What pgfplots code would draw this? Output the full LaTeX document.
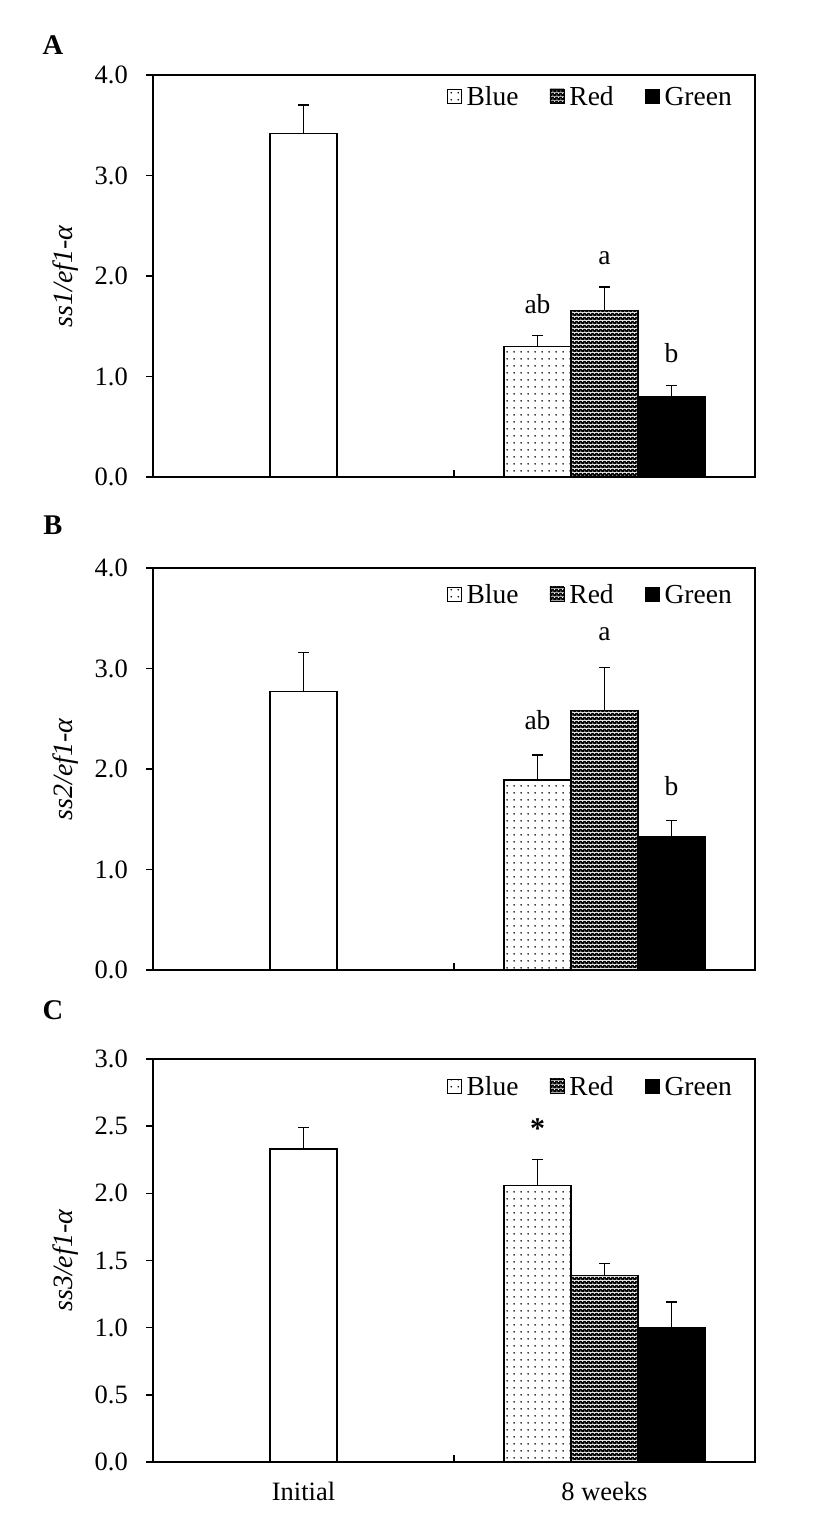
\documentclass[border=0pt]{standalone}
\usepackage{fontspec}
\setmainfont{Liberation Serif}
\usepackage{pgfplots}
\pgfplotsset{compat=1.18}
\usetikzlibrary{patterns}

\pgfdeclarepatternformonly{bluedots}{\pgfqpoint{0pt}{0pt}}{\pgfqpoint{7pt}{7pt}}{\pgfqpoint{7pt}{7pt}}{%
  \pgfpathcircle{\pgfqpoint{3.5pt}{3.5pt}}{1pt}\pgfusepath{fill}}
\pgfdeclarepatterninherentlycolored{redlattice}{\pgfqpoint{0pt}{0pt}}{\pgfqpoint{4pt}{4pt}}{\pgfqpoint{4pt}{4pt}}{%
  \pgfsetfillcolor{black}\pgfpathrectangle{\pgfqpoint{0pt}{0pt}}{\pgfqpoint{4pt}{4pt}}\pgfusepath{fill}%
  \pgfsetfillcolor{white}\pgfpathcircle{\pgfqpoint{1pt}{1pt}}{0.7pt}\pgfpathcircle{\pgfqpoint{3pt}{3pt}}{0.7pt}\pgfusepath{fill}}

\newcommand{\tickfont}{\fontsize{26.5}{30}\selectfont}
\newcommand{\legfont}{\fontsize{27.5}{30}\selectfont}

\pgfplotsset{
  panel/.style={
    scale only axis, width=602pt, xmin=0, xmax=2,
    axis line style={line width=1.8pt},
    /pgf/number format/assume math mode=true,
    tick label style={font=\tickfont},
    yticklabel style={anchor=east, inner sep=0pt, xshift=-18pt, /pgf/number format/.cd, fixed, fixed zerofill, precision=1},
    tick align=outside, major tick length=7pt,
    tick style={line width=1.5pt, black},
    xtick style={yshift=7pt},
    xtick pos=bottom, ytick pos=left,
    xtick={1}, xticklabels={},
    extra x tick style={major tick length=0pt, tick style={draw=none}},
    xticklabel style={anchor=north, inner sep=0pt, yshift=-20pt},
    every axis y label/.style={at={(axis description cs:-0.1445,0.5)}, rotate=90, anchor=center, font=\fontsize{28}{30}\selectfont},
    legend columns=3,
    legend image code/.code={\draw[#1, line width=0.9pt] (0pt,-6pt) rectangle (14pt,8pt);},
    legend style={draw=none, fill=none, at={(1,1)}, anchor=north east, xshift=-23pt,
      font=\legfont, inner sep=0pt, nodes={inner sep=0pt},
      /tikz/every odd column/.append style={column sep=5pt},
      /tikz/every even column/.append style={column sep=31pt}},
  },
  barstyle/.style={ybar, bar width=67pt, bar shift=0pt, draw=black, line width=1.3pt,
    error bars/y dir=plus, error bars/y explicit, error bars/error mark=|,
    error bars/error bar style={line width=1.3pt, black},
    error bars/error mark options={line width=1.3pt, mark size=5.5pt, black}},
  initbar/.style={barstyle, fill=white, forget plot},
  bluebar/.style={barstyle, pattern=bluedots, pattern color=black},
  redbar/.style={barstyle, pattern=redlattice},
  greenbar/.style={barstyle, fill=black},
}

\begin{document}
\begin{tikzpicture}
\path[use as bounding box] (0,0) rectangle (827pt,1524pt);

% Panel A
\node[font=\bfseries\fontsize{28.5}{30}\selectfont] at (53pt,1479pt) {A};
\begin{axis}[panel, at={(153pt,1047pt)}, anchor=south west, height=402pt,
  ymin=0, ymax=4, ytick={0,1,2,3,4},
  ylabel={\textit{ss1/ef1-α}}, legend style={yshift=-11.5pt}]
\addplot[initbar] coordinates {(0.5,3.42) +- (0,0.28)};
\addplot[bluebar] coordinates {(1.2774,1.30) +- (0,0.11)};
\addlegendentry{Blue}
\addplot[redbar] coordinates {(1.5,1.66) +- (0,0.23)};
\addlegendentry{Red}
\addplot[greenbar] coordinates {(1.7226,0.80) +- (0,0.11)};
\addlegendentry{Green}
\node[anchor=base, font=\legfont] at (axis cs:1.2774,1.63) {ab};
\node[anchor=base, font=\legfont] at (axis cs:1.5,2.11) {a};
\node[anchor=base, font=\legfont] at (axis cs:1.7226,1.14) {b};
\end{axis}

% Panel B
\node[font=\bfseries\fontsize{28.5}{30}\selectfont] at (53pt,999pt) {B};
\begin{axis}[panel, at={(153pt,554pt)}, anchor=south west, height=402pt,
  ymin=0, ymax=4, ytick={0,1,2,3,4},
  ylabel={\textit{ss2/ef1-α}}, legend style={yshift=-16.5pt}]
\addplot[initbar] coordinates {(0.5,2.77) +- (0,0.39)};
\addplot[bluebar] coordinates {(1.2774,1.89) +- (0,0.25)};
\addlegendentry{Blue}
\addplot[redbar] coordinates {(1.5,2.58) +- (0,0.43)};
\addlegendentry{Red}
\addplot[greenbar] coordinates {(1.7226,1.33) +- (0,0.16)};
\addlegendentry{Green}
\node[anchor=base, font=\legfont] at (axis cs:1.2774,2.39) {ab};
\node[anchor=base, font=\legfont] at (axis cs:1.5,3.28) {a};
\node[anchor=base, font=\legfont] at (axis cs:1.7226,1.74) {b};
\end{axis}

% Panel C
\node[font=\bfseries\fontsize{28.5}{30}\selectfont] at (53pt,514pt) {C};
\begin{axis}[panel, at={(153pt,62pt)}, anchor=south west, height=403pt,
  ymin=0, ymax=3, ytick={0,0.5,1,1.5,2,2.5,3},
  extra x ticks={0.5,1.5}, extra x tick labels={Initial, 8 weeks},
  ylabel={\textit{ss3/ef1-α}}, legend style={yshift=-17.5pt}]
\addplot[initbar] coordinates {(0.5,2.33) +- (0,0.16)};
\addplot[bluebar] coordinates {(1.2774,2.06) +- (0,0.19)};
\addlegendentry{Blue}
\addplot[redbar] coordinates {(1.5,1.39) +- (0,0.09)};
\addlegendentry{Red}
\addplot[greenbar] coordinates {(1.7226,1.00) +- (0,0.19)};
\addlegendentry{Green}
\node[anchor=center, font=\bfseries\fontsize{30}{30}\selectfont] at (axis cs:1.2774,2.48) {*};
\end{axis}
\end{tikzpicture}
\end{document}
